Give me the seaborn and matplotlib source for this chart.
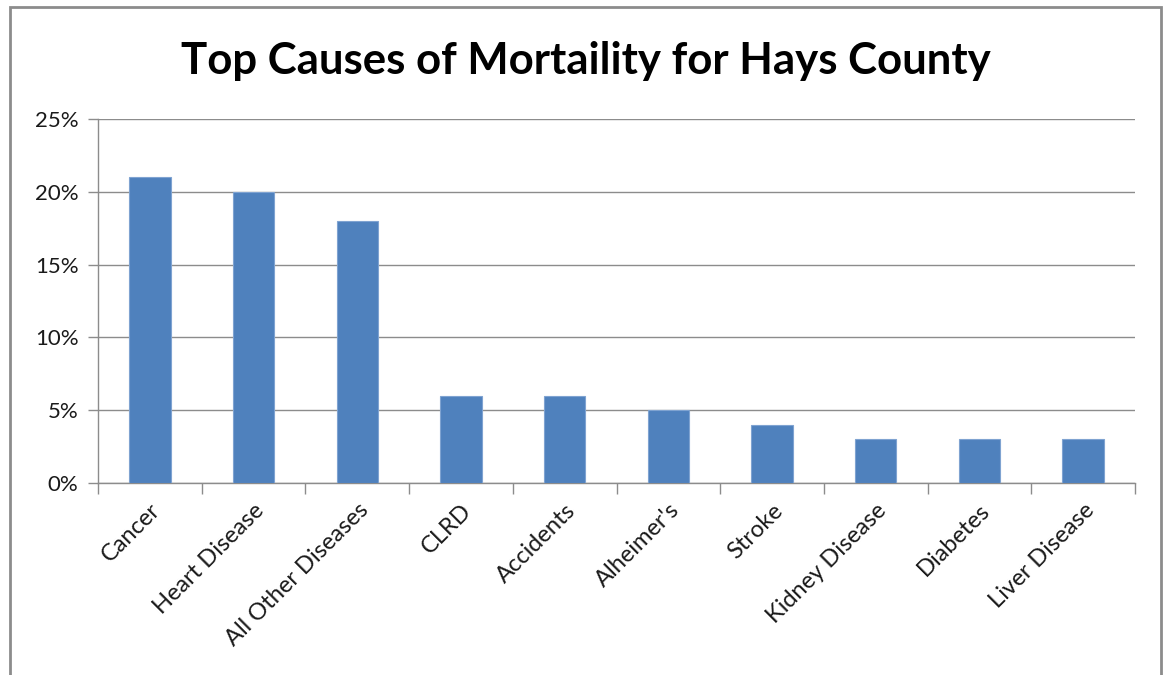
import matplotlib
matplotlib.use("Agg")
import matplotlib.pyplot as plt
from matplotlib.patches import Rectangle
from matplotlib.ticker import FixedLocator, PercentFormatter
import seaborn as sns
import pandas as pd
import numpy as np

# Share of deaths by cause
causes = ["Cancer", "Heart Disease", "All Other Diseases", "CLRD", "Accidents",
          "Alheimer's", "Stroke", "Kidney Disease", "Diabetes", "Liver Disease"]
shares = [21, 20, 18, 6, 6, 5, 4, 3, 3, 3]
y_ticks = [0, 5, 10, 15, 20, 25]

df = pd.DataFrame({"cause": causes, "share": shares})

sns.set_theme(style="white")
plt.rcParams["font.family"] = ["Lato", "DejaVu Sans"]

W, H = 1163, 675
fig = plt.figure(figsize=(W / 100, H / 100), dpi=100)
fig.patch.set_facecolor("white")

# Chart frame
fig.patches.append(Rectangle((10 / W, -0.05), (1161 - 10) / W, 1.05 - 7 / H,
                             transform=fig.transFigure, fill=False,
                             edgecolor="#8c8c8c", linewidth=2))

left, right, bottom, top = 98, 1135, 483, 119
ax = fig.add_axes([left / W, 1 - bottom / H, (right - left) / W, (bottom - top) / H])

bar_color = "#4F81BD"
sns.barplot(data=df, x="cause", y="share", color=bar_color, width=0.4,
            saturation=1, edgecolor="#7fa3d1", linewidth=0.8, ax=ax, zorder=3)

ax.set_xlim(-0.5, len(causes) - 0.5)
ax.set_ylim(0, 25)
ax.yaxis.set_major_locator(FixedLocator(y_ticks))
ax.yaxis.set_major_formatter(PercentFormatter(decimals=0))
ax.grid(axis="y", color="#8c8c8c", linewidth=1, zorder=0)
ax.grid(axis="x", visible=False)
ax.set_axisbelow(True)

for side in ["top", "right"]:
    ax.spines[side].set_visible(False)
for side in ["left", "bottom"]:
    ax.spines[side].set_color("#8c8c8c")
    ax.spines[side].set_linewidth(1)

ax.set_xlabel("")
ax.set_ylabel("")

# Category boundary tick marks on the x axis
ax.xaxis.set_minor_locator(FixedLocator(np.arange(-0.5, len(causes), 1.0)))
ax.tick_params(axis="x", which="minor", length=8, width=1, color="#8c8c8c", direction="out", bottom=True)
ax.tick_params(axis="x", which="major", length=0, pad=12)
ax.tick_params(axis="y", which="major", length=7, width=1, color="#8c8c8c", direction="out", left=True, pad=7)

ax.set_xticks(range(len(causes)))
ax.set_xticklabels(causes, rotation=45, ha="right", rotation_mode="anchor",
                   fontsize=17, color="#1a1a1a")
for lab in ax.get_yticklabels():
    lab.set_fontsize(16)
    lab.set_color("#1a1a1a")

fig.text(586 / W, 1 - 61 / H, "Top Causes of Mortaility for Hays County",
         ha="center", va="center", fontsize=31.5, fontweight="bold", color="black")

fig.savefig("out.png", dpi=100, facecolor="white")
